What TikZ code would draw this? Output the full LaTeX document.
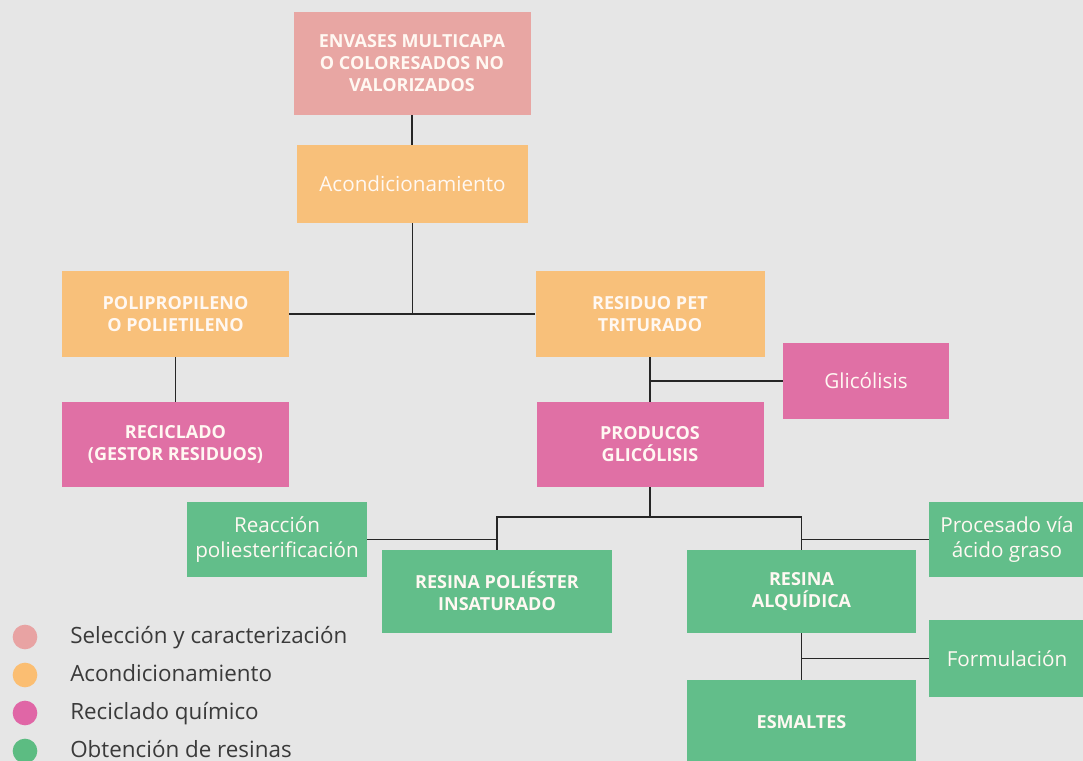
\documentclass[tikz,border=0pt]{standalone}
\usepackage{fontspec}
\setmainfont{Open Sans}
\definecolor{bg}{HTML}{E6E6E6}
\definecolor{cpink}{HTML}{E8A6A3}
\definecolor{corange}{HTML}{F8C07A}
\definecolor{cmag}{HTML}{E070A5}
\definecolor{cgreen}{HTML}{62BE8A}
\definecolor{lpink}{HTML}{E8A3A3}
\definecolor{lorange}{HTML}{FBBE72}
\definecolor{lmag}{HTML}{E066A6}
\definecolor{lgreen}{HTML}{5CBC82}
\definecolor{ltext}{HTML}{3A3A3A}
\definecolor{wtext}{HTML}{FFF8F2}
\begin{document}
\begin{tikzpicture}[x=0.75pt,y=-0.75pt,
  box/.style={rectangle, inner sep=0pt, text=wtext, align=center},
  capsbox/.style={box, font=\fontsize{13.5}{16.5}\selectfont\bfseries},
  lowbox/.style={box, font=\fontsize{15.5}{18.5}\selectfont},
  link/.style={draw=black!85, line width=1.3pt},
  legdot/.style={circle, inner sep=0pt, minimum size=18.5pt},
  legtext/.style={anchor=base west, text=ltext, font=\fontsize{16.8}{18}\selectfont, inner sep=0pt}]
\fill[bg] (0,0) rectangle (1083,761);
\useasboundingbox (0,0) rectangle (1083,761);

\node[capsbox, fill=cpink, minimum width=177.75pt, minimum height=77.25pt] (env) at (412,63.5) {ENVASES MULTICAPA\\O COLORESADOS NO\\VALORIZADOS};
\node[lowbox, fill=corange, minimum width=173.25pt, minimum height=58.5pt] (acond) at (412.5,184) {Acondicionamiento};
\node[capsbox, fill=corange, minimum width=170.25pt, minimum height=64.5pt] (poli) at (175.5,314) {POLIPROPILENO\\O POLIETILENO};
\node[capsbox, fill=corange, minimum width=171.75pt, minimum height=64.5pt] (res) at (650,314) {RESIDUO PET\\TRITURADO};
\node[lowbox, fill=cmag, minimum width=124.5pt, minimum height=57pt] (glic) at (866,381) {Glicólisis};
\node[capsbox, fill=cmag, minimum width=170.25pt, minimum height=63.75pt] (recic) at (175.5,444.5) {RECICLADO\\(GESTOR RESIDUOS)};
\node[capsbox, fill=cmag, minimum width=170.25pt, minimum height=63.75pt] (prod) at (650,444.5) {PRODUCOS\\GLICÓLISIS};
\node[lowbox, fill=cgreen, minimum width=135pt, minimum height=56.25pt] (reac) at (277,539.5) {Reacción\\poliesterificación};
\node[capsbox, fill=cgreen, minimum width=172.5pt, minimum height=62.25pt] (rpoli) at (497,591.5) {RESINA POLIÉSTER\\INSATURADO};
\node[capsbox, fill=cgreen, minimum width=171.75pt, minimum height=62.25pt] (ralq) at (801.5,591.5) {RESINA\\ALQUÍDICA};
\node[lowbox, fill=cgreen, minimum width=117pt, minimum height=56.25pt] (proc) at (1007,539.5) {Procesado vía\\ácido graso};
\node[lowbox, fill=cgreen, minimum width=117pt, minimum height=57.75pt] (form) at (1007,658.5) {Formulación};
\node[capsbox, fill=cgreen, minimum width=171.75pt, minimum height=63pt] (esm) at (801.5,722) {ESMALTES};

\draw[link] (env.south) -- (env.south |- acond.north);
\coordinate (j1) at (acond.south |- poli.east);
\draw[link] (acond.south) -- (j1);
\draw[link] (poli.east) -- (res.west);
\draw[link] (poli.south) -- (recic.north);
\draw[link] (res.south) -- (prod.north);
\draw[link] (glic.west) -- (glic.west -| res.south);
\coordinate (j2) at (prod.south |- 0,517);
\draw[link] (prod.south) -- (j2);
\draw[link] (rpoli.north) -- (rpoli.north |- j2) -- (ralq.north |- j2) -- (ralq.north);
\draw[link] (reac.east) -- (reac.east -| rpoli.north);
\draw[link] (proc.west) -- (proc.west -| ralq.north);
\draw[link] (ralq.south) -- (esm.north);
\draw[link] (form.west) -- (form.west -| ralq.south);

\node[legdot, fill=lpink] (d1) at (25,637) {};
\node[legdot, fill=lorange] (d2) at (25,675) {};
\node[legdot, fill=lmag] (d3) at (25,713) {};
\node[legdot, fill=lgreen] (d4) at (25,751) {};
\node[legtext] (t1) at (70,643) {Selección y caracterización};
\node[legtext] (t2) at (70,681) {Acondicionamiento};
\node[legtext] (t3) at (70,719) {Reciclado químico};
\node[legtext] (t4) at (70,757) {Obtención de resinas};
\end{tikzpicture}
\end{document}
